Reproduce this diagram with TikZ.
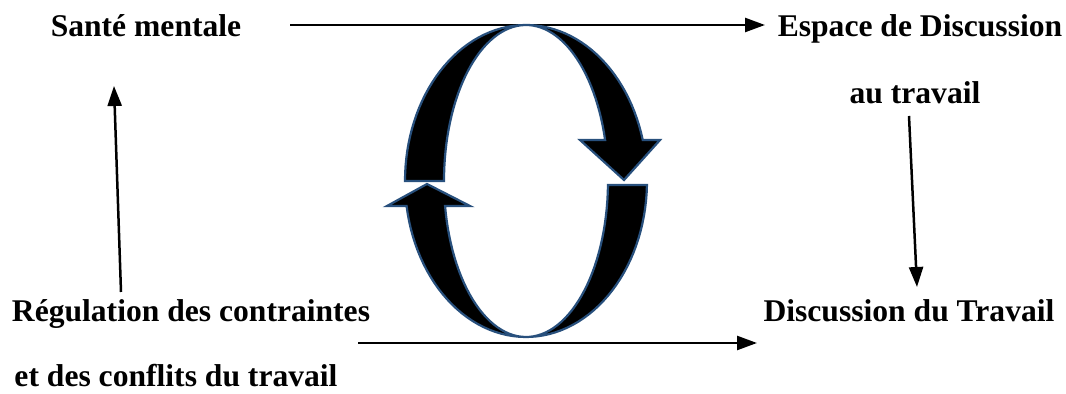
\documentclass[tikz,border=0pt]{standalone}
\usepackage{fontspec}
\setmainfont{Liberation Serif}
\usetikzlibrary{arrows.meta}
\definecolor{loopEdge}{RGB}{40,80,125}

\begin{document}
\begin{tikzpicture}[x=0.5pt, y=-0.5pt,
    lbl/.style={font=\fontsize{15.8}{18}\selectfont\bfseries, inner sep=0pt, anchor=base},
    conn/.style={-{Triangle[length=10pt, width=7pt]}, line width=1.25pt},
    loopband/.style={fill=black, draw=loopEdge, line width=1.1pt, line join=miter}
  ]
  \useasboundingbox (0,0) rectangle (1066,394);

  \node[lbl] (sante)    at (146,37)  {Santé mentale};
  \node[lbl] (espace)   at (920,37)  {Espace de Discussion};
  \node[lbl] (autrav)   at (915,104) {au travail};
  \node[lbl] (discu)    at (909,322) {Discussion du Travail};
  \node[lbl] (regul)    at (191,322) {Régulation des contraintes};
  \node[lbl] (conflits) at (176,387) {et des conflits du travail};

  \coordinate (topL) at (290,25);  \coordinate (topR) at (765,25);
  \coordinate (botL) at (358,343); \coordinate (botR) at (757,343);
  \coordinate (lftB) at (121,292); \coordinate (lftT) at (114,86);
  \coordinate (rgtT) at (909,116); \coordinate (rgtB) at (917,287);

  \draw[conn] (topL)--(topR);
  \draw[conn] (rgtT)--(rgtB);
  \draw[conn] (botL)--(botR);
  \draw[conn] (lftB)--(lftT);

  % the two curved arrows
  \draw[loopband] plot[domain=180:344.8, samples=60] ({526+121*cos(\x)},{181+156*sin(\x)})
    -- (660,140) -- (624,180) -- (580,140)
    -- plot[domain=344.8:180, samples=60] ({526+82*cos(\x)},{181+156*sin(\x)}) -- cycle;
  \draw[loopband] plot[domain=1.5:170.8, samples=60] ({526+121*cos(\x)},{181+156*sin(\x)})
    -- (387,206) -- (427,184) -- (470,206)
    -- plot[domain=170.8:1.5, samples=60] ({526+82*cos(\x)},{181+156*sin(\x)}) -- cycle;
\end{tikzpicture}
\end{document}
